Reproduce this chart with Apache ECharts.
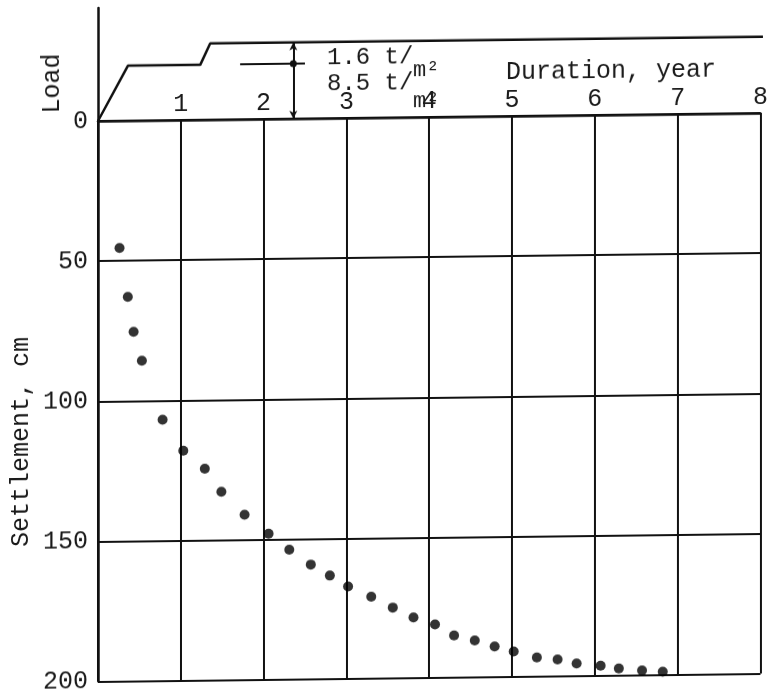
<!DOCTYPE html>
<html>
<head>
<meta charset="utf-8">
<script src="https://cdn.jsdelivr.net/npm/echarts@6/dist/echarts.min.js"></script>
<style>
  html, body { margin: 0; padding: 0; background: #fff; }
  /* the scanned figure is slightly sheared: right side sits higher */
  #chart { width: 771px; height: 694px; transform-origin: 98px 0; transform: skewY(-0.69deg); }
</style>
</head>
<body>
<div id="chart"></div>
<script>
// settlement measurements (year, cm)
const years = [0.26, 0.36, 0.43, 0.53, 0.78, 1.03, 1.29, 1.49, 1.77, 2.06,
  2.31, 2.57, 2.80, 3.02, 3.30, 3.56, 3.81, 4.07, 4.30, 4.55,
  4.79, 5.02, 5.30, 5.55, 5.78, 6.07, 6.29, 6.57, 6.82];
const settlement = [45.4, 62.9, 75.4, 85.7, 106.9, 118.0, 124.5, 132.8, 141.1, 148.0,
  153.8, 159.2, 163.2, 167.2, 170.9, 174.9, 178.5, 181.1, 185.1, 187.0,
  189.2, 191.1, 193.3, 194.1, 195.6, 196.5, 197.6, 198.4, 198.9];

// load history (drawn, not to scale)
const loadTimes = [0, 0.36, 1.23, 1.35, 8];
const loadLevels = [0, 8.5, 8.5, 11.8, 11.8];
const loadMax = 17.5;

// annotation arrow
const arrowX = 2.35;
const tickFrom = 1.71, tickTo = 2.49;

const yearTicks = [0, 1, 2, 3, 4, 5, 6, 7, 8];
const settleTicks = [0, 50, 100, 150, 200];

const font = '"Liberation Mono", "DejaVu Sans Mono", monospace';
const ink = '#111';
const textInk = '#1a1a1a';

let myChart = echarts.init(document.querySelector('#chart'));

myChart.setOption({
    animation: false,
    grid: [
        {left: 98, right: 8, top: 8, height: 113},
        {left: 98, right: 8, top: 121, height: 561}
    ],
    xAxis: [
        {gridIndex: 0, type: 'value', min: 0, max: 8, show: false},
        {
            gridIndex: 1, type: 'value', position: 'top',
            min: yearTicks[0], max: yearTicks[yearTicks.length - 1], interval: 1,
            axisLine: {lineStyle: {color: ink, width: 2.5}},
            axisTick: {show: false},
            axisLabel: {
                margin: 3, color: textInk, fontFamily: font, fontSize: 25,
                showMaxLabel: true,
                formatter: v => v === 0 ? '' : String(v)
            },
            splitLine: {show: true, lineStyle: {color: ink, width: 2}}
        }
    ],
    yAxis: [
        {
            gridIndex: 0, type: 'value', min: 0, max: loadMax,
            axisLine: {show: true, lineStyle: {color: ink, width: 2.5}},
            axisTick: {show: false}, axisLabel: {show: false}, splitLine: {show: false}
        },
        {
            gridIndex: 1, type: 'value', inverse: true,
            min: settleTicks[0], max: settleTicks[settleTicks.length - 1], interval: 50,
            axisLine: {show: true, lineStyle: {color: ink, width: 2.5}},
            axisTick: {show: false},
            axisLabel: {margin: 10, color: textInk, fontFamily: font, fontSize: 25},
            splitLine: {show: true, lineStyle: {color: ink, width: 2}}
        }
    ],
    graphic: [
        {type: 'text', x: 52, y: 83, rotation: Math.PI / 2,
         style: {text: 'Load', font: '25px ' + font, fill: textInk,
                 align: 'center', verticalAlign: 'middle', textAlign: 'center', textVerticalAlign: 'middle'}},
        {type: 'text', x: 21, y: 441, rotation: Math.PI / 2,
         style: {text: 'Settlement, cm', font: '25px ' + font, fill: textInk,
                 align: 'center', verticalAlign: 'middle', textAlign: 'center', textVerticalAlign: 'middle'}},
        {type: 'text', x: 506, y: 77,
         style: {text: 'Duration, year', font: '25px ' + font, fill: textInk,
                 verticalAlign: 'middle', textVerticalAlign: 'middle'}},
        {type: 'text', x: 327, y: 61,
         style: {text: '1.6 t/', font: '24px ' + font, fill: textInk,
                 verticalAlign: 'middle', textVerticalAlign: 'middle'}},
        {type: 'text', x: 413, y: 74,
         style: {text: 'm²', font: '22px ' + font, fill: textInk,
                 verticalAlign: 'middle', textVerticalAlign: 'middle'}},
        {type: 'text', x: 327, y: 87,
         style: {text: '8.5 t/', font: '24px ' + font, fill: textInk,
                 verticalAlign: 'middle', textVerticalAlign: 'middle'}},
        {type: 'text', x: 413, y: 105,
         style: {text: 'm²', font: '22px ' + font, fill: textInk,
                 verticalAlign: 'middle', textVerticalAlign: 'middle'}}
    ],
    series: [
        {
            type: 'line', xAxisIndex: 0, yAxisIndex: 0,
            data: loadTimes.map((t, i) => [t, loadLevels[i]]),
            showSymbol: false,
            lineStyle: {color: ink, width: 2.5},
            markLine: {
                silent: true,
                label: {show: false},
                lineStyle: {color: ink, width: 2, type: 'solid'},
                data: [
                    [{coord: [arrowX, 0], symbol: 'arrow', symbolSize: [6, 8]},
                     {coord: [arrowX, loadLevels[3]], symbol: 'arrow', symbolSize: [6, 8]}],
                    [{coord: [tickFrom, loadLevels[1]], symbol: 'none'},
                     {coord: [tickTo, loadLevels[1]], symbol: 'none'}]
                ]
            },
            markPoint: {
                silent: true,
                symbol: 'circle', symbolSize: 7,
                itemStyle: {color: ink},
                label: {show: false},
                data: [{coord: [arrowX, loadLevels[1]]}]
            }
        },
        {
            type: 'scatter', xAxisIndex: 1, yAxisIndex: 1,
            data: years.map((x, i) => [x, settlement[i]]),
            symbolSize: 10,
            itemStyle: {color: '#000'}
        }
    ]
});
</script>
</body>
</html>
